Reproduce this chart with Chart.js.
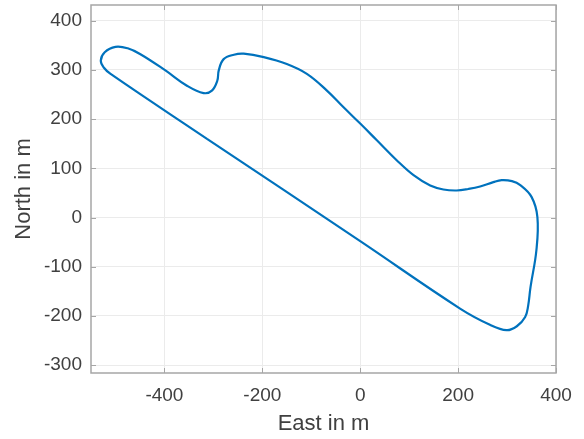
<!DOCTYPE html>
<html>
<head>
<meta charset="utf-8">
<title>Track</title>
<script src="https://cdn.jsdelivr.net/npm/chart.js@4/dist/chart.umd.min.js"></script>
<style>
  body { margin: 0; background: #fff; }
  #wrap { width: 584px; height: 439px; }
</style>
</head>
<body>
<div id="wrap"><canvas id="trackChart"></canvas></div>
<script>
// track (metres)
const eastValues = [-313, -510, -524, -530, -522, -500, -475, -449, -398, -354, -320, -303, -292, -289, -279, -258,
    -238, -197, -150, -109, -68, -34, 0, 34, 75, 109, 143, 170, 197, 221, 245, 272, 289, 310, 327, 350, 362, 360,
    348, 343, 337, 320, 299, 265, 204, 0, -313];
const northValues = [160, 292, 305, 319, 336, 347, 344, 332, 299, 268, 253, 258, 278, 299, 322, 331,
    333, 326, 312, 292, 258, 224, 191, 157, 116, 86, 65, 57, 55, 58, 63, 72, 76, 74, 66, 42, 1, -66,
    -141, -180, -202, -221, -229, -218, -185, -48, 160];

const xTickValues = [-400, -200, 0, 200, 400];
const yTickValues = [-300, -200, -100, 0, 100, 200, 300, 400];

const boxColor = '#a6a6a6';
const textColor = '#404040';
const fontFamily = '"Liberation Sans", Arial, sans-serif';

// MATLAB style box with inward ticks
const boxPlugin = {
    id: 'box',
    afterDraw(chart) {
        const {ctx, chartArea: a, scales} = chart;
        ctx.save();
        ctx.strokeStyle = boxColor;
        ctx.lineWidth = 1;
        ctx.beginPath();
        xTickValues.forEach(v => {
            const px = Math.round(scales.x.getPixelForValue(v)) + 0.5;
            ctx.moveTo(px, a.bottom); ctx.lineTo(px, a.bottom - 5);
            ctx.moveTo(px, a.top); ctx.lineTo(px, a.top + 5);
        });
        yTickValues.forEach(v => {
            const py = Math.round(scales.y.getPixelForValue(v)) + 0.5;
            ctx.moveTo(a.left, py); ctx.lineTo(a.left + 5, py);
            ctx.moveTo(a.right, py); ctx.lineTo(a.right - 5, py);
        });
        ctx.stroke();
        ctx.lineWidth = 1.5;
        ctx.strokeRect(a.left, a.top, a.right - a.left, a.bottom - a.top);
        ctx.restore();
    }
};

new Chart(document.getElementById('trackChart'), {
    type: 'scatter',
    data: {
        datasets: [{
            data: eastValues.map((e, i) => ({x: e, y: northValues[i]})),
            showLine: true,
            borderColor: '#0072bd',
            borderWidth: 2.2,
            pointRadius: 0,
            tension: 0.4
        }]
    },
    options: {
        animation: false,
        responsive: true,
        maintainAspectRatio: false,
        layout: { padding: {top: 5, right: 28, left: 0, bottom: 0} },
        plugins: { legend: {display: false}, tooltip: {enabled: false} },
        scales: {
            x: {
                min: -550, max: 400,
                afterBuildTicks: s => { s.ticks = xTickValues.map(v => ({value: v})); },
                afterFit: s => { s.height = 66; s.paddingLeft = 0; s.paddingRight = 0; },
                border: {display: false},
                grid: {color: '#ebebeb', drawTicks: false},
                ticks: {padding: 11, color: textColor, font: {family: fontFamily, size: 19}},
                title: {
                    display: true, text: 'East in m', color: textColor,
                    font: {family: fontFamily, size: 22, lineHeight: 1.2},
                    padding: {top: 0, bottom: 2}
                }
            },
            y: {
                min: -316, max: 432,
                afterBuildTicks: s => { s.ticks = yTickValues.map(v => ({value: v})); },
                afterFit: s => { s.width = 91; s.paddingTop = 0; s.paddingBottom = 0; },
                border: {display: false},
                grid: {color: '#ebebeb', drawTicks: false},
                ticks: {padding: 9, color: textColor, font: {family: fontFamily, size: 19}},
                title: {
                    display: true, text: 'North in m', color: textColor,
                    font: {family: fontFamily, size: 22, lineHeight: 1.2},
                    padding: {top: 11, bottom: 0}
                }
            }
        }
    },
    plugins: [boxPlugin]
});
</script>
</body>
</html>
